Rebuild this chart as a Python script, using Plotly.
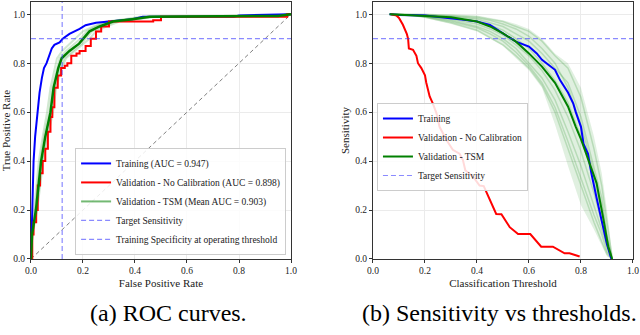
import plotly.graph_objects as go
from plotly.subplots import make_subplots

# ---- ROC curves (left) ----
train_fpr = [0, 0.002, 0.004, 0.007, 0.01, 0.016, 0.024, 0.033, 0.042, 0.05, 0.06, 0.07, 0.08, 0.09,
             0.11, 0.122, 0.148, 0.187, 0.21, 0.25, 0.29, 0.35, 0.39, 0.43, 0.78, 0.8, 0.95, 1.0]
train_tpr = [0, 0.1, 0.2, 0.3, 0.4, 0.5, 0.6, 0.68, 0.74, 0.78, 0.8, 0.83, 0.86, 0.875,
             0.885, 0.9, 0.92, 0.94, 0.955, 0.965, 0.97, 0.975, 0.98, 0.99, 0.99, 0.995, 1.0, 1.0]

val_fpr = [0, 0.005, 0.01, 0.02, 0.026, 0.035, 0.045, 0.055, 0.065, 0.075, 0.082, 0.09, 0.103, 0.116,
           0.13, 0.14, 0.155, 0.175, 0.187, 0.21, 0.23, 0.25, 0.27, 0.3, 0.47, 0.5, 0.97, 0.985, 1.0]
val_tpr = [0, 0.1, 0.15, 0.2, 0.3, 0.35, 0.4, 0.45, 0.52, 0.58, 0.62, 0.7, 0.75, 0.78,
           0.79, 0.8, 0.83, 0.84, 0.85, 0.87, 0.9, 0.93, 0.95, 0.97, 0.975, 0.99, 0.99, 1.0, 1.0]

tsm_tpr = [0, 0.1, 0.2, 0.3, 0.4, 0.5, 0.6, 0.7, 0.78, 0.82, 0.85, 0.88, 0.9, 0.93, 0.95, 0.97, 0.98, 0.99, 0.993, 1.0]
tsm_fpr_mean = [0, 0.004, 0.019, 0.028, 0.039, 0.055, 0.075, 0.087, 0.105, 0.118, 0.148, 0.185, 0.2, 0.225,
                0.264, 0.315, 0.39, 0.457, 0.95, 1.0]
tsm_fpr_runs = [
    [0, 0.003, 0.012, 0.02, 0.03, 0.045, 0.062, 0.075, 0.09, 0.1, 0.12, 0.15, 0.17, 0.2, 0.24, 0.29, 0.36, 0.42, 0.9, 1.0],
    [0, 0.006, 0.024, 0.035, 0.047, 0.065, 0.085, 0.097, 0.118, 0.135, 0.17, 0.205, 0.225, 0.25, 0.29, 0.34, 0.42, 0.48, 0.97, 1.0],
    [0, 0.005, 0.016, 0.025, 0.036, 0.05, 0.07, 0.082, 0.1, 0.11, 0.135, 0.17, 0.19, 0.215, 0.25, 0.3, 0.37, 0.45, 0.93, 1.0],
    [0, 0.004, 0.022, 0.032, 0.043, 0.06, 0.08, 0.092, 0.112, 0.128, 0.16, 0.195, 0.21, 0.235, 0.275, 0.325, 0.4, 0.47, 0.96, 1.0],
]

target_sens = 0.9
op_fpr = 0.12

# ---- Sensitivity vs threshold (right) ----
thr_train = [0.064, 0.1, 0.2, 0.25, 0.3, 0.35, 0.4, 0.45, 0.5, 0.53, 0.55, 0.6, 0.63, 0.65, 0.68, 0.7,
             0.72, 0.75, 0.77, 0.78, 0.8, 0.81, 0.827, 0.84, 0.86, 0.88, 0.9, 0.917]
sens_train = [1.0, 0.997, 0.995, 0.99, 0.984, 0.977, 0.97, 0.956, 0.922, 0.9, 0.888, 0.868, 0.84, 0.814, 0.79, 0.773,
              0.73, 0.68, 0.636, 0.6, 0.54, 0.47, 0.43, 0.35, 0.25, 0.15, 0.06, 0.0]

thr_val = [0.07, 0.09, 0.1, 0.115, 0.13, 0.135, 0.138, 0.154, 0.167, 0.173, 0.186, 0.2, 0.205, 0.218, 0.23,
           0.244, 0.256, 0.282, 0.307, 0.333, 0.346, 0.355, 0.385, 0.41, 0.426, 0.449, 0.474, 0.494, 0.526,
           0.558, 0.605, 0.647, 0.692, 0.737, 0.756, 0.795]
sens_val = [1.0, 0.995, 0.985, 0.957, 0.92, 0.9, 0.86, 0.855, 0.83, 0.8, 0.78, 0.75, 0.72, 0.664, 0.636,
            0.596, 0.54, 0.487, 0.446, 0.43, 0.404, 0.363, 0.336, 0.3, 0.298, 0.24, 0.184, 0.183, 0.13,
            0.102, 0.102, 0.05, 0.05, 0.023, 0.023, 0.01]

thr_tsm = [0.064, 0.1, 0.2, 0.3, 0.4, 0.45, 0.5, 0.55, 0.6, 0.65, 0.7, 0.75, 0.78, 0.8, 0.82, 0.84, 0.86,
           0.885, 0.905, 0.917, 0.92]
sens_tsm = [1.0, 0.998, 0.995, 0.988, 0.97, 0.95, 0.922, 0.888, 0.84, 0.786, 0.72, 0.623, 0.54, 0.49, 0.43,
            0.37, 0.31, 0.17, 0.05, 0.01, 0.0]

thr_runs = [0.064, 0.15, 0.2, 0.3, 0.4, 0.45, 0.5, 0.55, 0.6, 0.65, 0.7, 0.75, 0.8, 0.85, 0.88, 0.9, 0.92]
sens_runs = [
    [1.0, 1.0, 1.0, 0.995, 0.99, 0.98, 0.97, 0.95, 0.93, 0.89, 0.83, 0.78, 0.66, 0.45, 0.3, 0.15, 0.01],
    [1.0, 0.998, 0.99, 0.975, 0.95, 0.93, 0.9, 0.86, 0.8, 0.74, 0.65, 0.52, 0.38, 0.22, 0.12, 0.05, 0.0],
    [1.0, 0.997, 0.995, 0.985, 0.97, 0.955, 0.935, 0.9, 0.86, 0.8, 0.73, 0.64, 0.5, 0.32, 0.2, 0.08, 0.0],
    [1.0, 0.995, 0.988, 0.965, 0.935, 0.905, 0.875, 0.83, 0.78, 0.71, 0.6, 0.45, 0.3, 0.15, 0.07, 0.02, 0.0],
    [1.0, 1.0, 0.998, 0.99, 0.98, 0.965, 0.95, 0.92, 0.89, 0.84, 0.78, 0.72, 0.58, 0.38, 0.25, 0.1, 0.0],
    [1.0, 0.998, 0.993, 0.98, 0.96, 0.94, 0.915, 0.875, 0.83, 0.77, 0.69, 0.58, 0.44, 0.27, 0.15, 0.06, 0.0],
    [1.0, 0.999, 0.996, 0.992, 0.985, 0.975, 0.96, 0.94, 0.91, 0.86, 0.8, 0.7, 0.55, 0.35, 0.22, 0.09, 0.0],
    [1.0, 0.996, 0.99, 0.97, 0.945, 0.92, 0.89, 0.845, 0.79, 0.72, 0.62, 0.48, 0.33, 0.18, 0.1, 0.03, 0.0],
]
sens_upper = [1.0, 1.0, 1.0, 1.0, 0.995, 0.985, 0.975, 0.96, 0.94, 0.9, 0.84, 0.8, 0.7, 0.5, 0.35, 0.2, 0.02]
sens_lower = [1.0, 0.995, 0.985, 0.96, 0.93, 0.9, 0.87, 0.82, 0.77, 0.7, 0.55, 0.38, 0.22, 0.12, 0.05, 0.01, 0.0]

FONT = "Liberation Serif"
BLUE, RED, GREEN = "#0000ff", "#ff0000", "#008000"
RUN_GREEN = "rgba(0,128,0,0.18)"
DASH_BLUE = "rgba(60,60,255,0.6)"

fig = make_subplots(rows=1, cols=2)

# left: ROC
for run in tsm_fpr_runs:
    fig.add_trace(go.Scatter(x=run, y=tsm_tpr, mode="lines", line=dict(color=RUN_GREEN, width=2),
                             showlegend=False, hoverinfo="skip"), row=1, col=1)
fig.add_trace(go.Scatter(x=[0, 1], y=[0, 1], mode="lines", line=dict(color="gray", width=1, dash="4px,3px"),
                         showlegend=False), row=1, col=1)
fig.add_trace(go.Scatter(x=train_fpr, y=train_tpr, mode="lines", line=dict(color=BLUE, width=2),
                         name="Training (AUC = 0.947)", legend="legend"), row=1, col=1)
fig.add_trace(go.Scatter(x=val_fpr, y=val_tpr, mode="lines", line=dict(color=RED, width=2, shape="hv"),
                         name="Validation - No Calibration (AUC = 0.898)", legend="legend"), row=1, col=1)
fig.add_trace(go.Scatter(x=tsm_fpr_mean, y=tsm_tpr, mode="lines", line=dict(color=GREEN, width=2.5),
                         showlegend=False), row=1, col=1)
fig.add_trace(go.Scatter(x=[None], y=[None], mode="lines", line=dict(color="rgba(0,128,0,0.55)", width=2),
                         name="Validation - TSM (Mean AUC = 0.903)", legend="legend"), row=1, col=1)
fig.add_trace(go.Scatter(x=[0, 1], y=[target_sens, target_sens], mode="lines",
                         line=dict(color=DASH_BLUE, width=1.2, dash="5px,3px"),
                         name="Target Sensitivity", legend="legend"), row=1, col=1)
fig.add_trace(go.Scatter(x=[op_fpr, op_fpr], y=[0, 1.05], mode="lines",
                         line=dict(color=DASH_BLUE, width=1.2, dash="5px,3px"),
                         name="Training Specificity at operating threshold", legend="legend"), row=1, col=1)

# right: sensitivity vs threshold
fig.add_trace(go.Scatter(x=thr_runs, y=sens_upper, mode="lines", line=dict(width=0),
                         showlegend=False, hoverinfo="skip"), row=1, col=2)
fig.add_trace(go.Scatter(x=thr_runs, y=sens_lower, mode="lines", line=dict(width=0), fill="tonexty",
                         fillcolor="rgba(0,128,0,0.12)", showlegend=False, hoverinfo="skip"), row=1, col=2)
for run in sens_runs:
    fig.add_trace(go.Scatter(x=thr_runs, y=run, mode="lines", line=dict(color=RUN_GREEN, width=1.5),
                             showlegend=False, hoverinfo="skip"), row=1, col=2)
fig.add_trace(go.Scatter(x=thr_train, y=sens_train, mode="lines", line=dict(color=BLUE, width=2),
                         name="Training", legend="legend2"), row=1, col=2)
fig.add_trace(go.Scatter(x=thr_val, y=sens_val, mode="lines", line=dict(color=RED, width=2),
                         name="Validation - No Calibration", legend="legend2"), row=1, col=2)
fig.add_trace(go.Scatter(x=thr_tsm, y=sens_tsm, mode="lines", line=dict(color=GREEN, width=2),
                         name="Validation - TSM", legend="legend2"), row=1, col=2)
fig.add_trace(go.Scatter(x=[0, 1], y=[target_sens, target_sens], mode="lines",
                         line=dict(color=DASH_BLUE, width=1.2, dash="5px,3px"),
                         name="Target Sensitivity", legend="legend2"), row=1, col=2)

axis_style = dict(range=[0, 1], showline=True, mirror=True, linecolor="#333", linewidth=1,
                  showgrid=True, gridcolor="#ebebeb", gridwidth=1, zeroline=False,
                  ticks="outside", ticklen=3, tickcolor="#333", dtick=0.2, tickformat=".1f",
                  tickfont=dict(family=FONT, size=9.5, color="#222"), automargin=False)
fig.update_xaxes(**axis_style)
fig.update_yaxes(**axis_style)
fig.update_yaxes(range=[0, 1.05])

title_font = dict(family=FONT, size=11, color="#222")
fig.update_xaxes(domain=[0.0484, 0.4547], row=1, col=1,
                 title=dict(text="False Positive Rate", font=title_font, standoff=3))
fig.update_xaxes(domain=[0.5828, 0.989], row=1, col=2,
                 title=dict(text="Classification Threshold", font=title_font, standoff=3))
fig.update_yaxes(domain=[0.2269, 0.994], row=1, col=1,
                 title=dict(text="True Positive Rate", font=title_font, standoff=3))
fig.update_yaxes(domain=[0.2269, 0.994], row=1, col=2,
                 title=dict(text="Sensitivity", font=title_font, standoff=3))

legend_style = dict(bgcolor="rgba(255,255,255,0.85)", bordercolor="#cccccc", borderwidth=1,
                    font=dict(family=FONT, size=9.5, color="#222"), tracegroupgap=0, traceorder="normal")
fig.update_layout(
    width=640, height=335,
    margin=dict(l=0, r=0, t=0, b=0),
    paper_bgcolor="white", plot_bgcolor="white",
    font=dict(family=FONT),
    legend=dict(x=0.447, y=0.239, xanchor="right", yanchor="bottom", **legend_style),
    legend2=dict(x=0.589, y=0.6925, xanchor="left", yanchor="top", **legend_style),
    annotations=[
        dict(text="(a) ROC curves.", x=0.264, y=0.066, xref="paper", yref="paper", showarrow=False,
             xanchor="center", yanchor="middle", font=dict(family=FONT, size=24, color="black")),
        dict(text="(b) Sensitivity vs thresholds.", x=0.78, y=0.066, xref="paper", yref="paper", showarrow=False,
             xanchor="center", yanchor="middle", font=dict(family=FONT, size=24, color="black")),
    ],
)

fig.write_html("out.html", config={"displayModeBar": False},
               post_script="document.body.style.margin='0';")
